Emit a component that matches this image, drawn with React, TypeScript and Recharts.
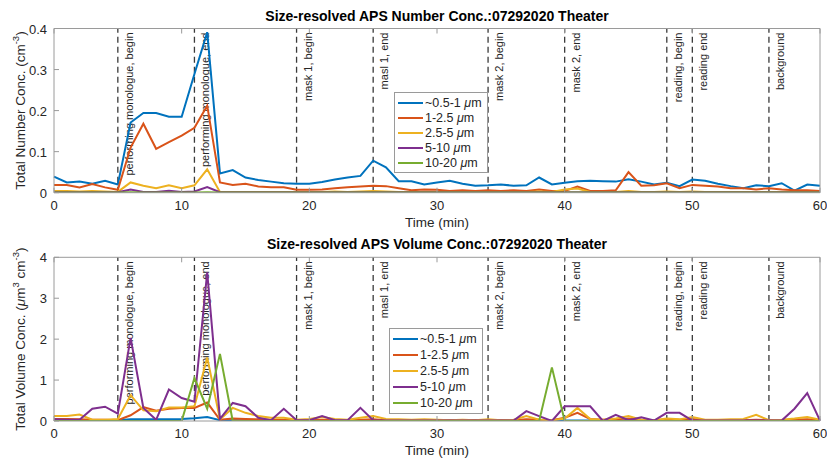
import React from 'react';
import { LineChart, Line, XAxis, YAxis, ReferenceLine, Legend } from 'recharts';

// time axis (min)
const time = [
  0, 1, 2, 3, 4, 5, 6, 7, 8, 9,
  10, 11, 12, 13, 14, 15, 16, 17, 18, 19,
  20, 21, 22, 23, 24, 25, 26, 27, 28, 29,
  30, 31, 32, 33, 34, 35, 36, 37, 38, 39,
  40, 41, 42, 43, 44, 45, 46, 47, 48, 49,
  50, 51, 52, 53, 54, 55, 56, 57, 58, 59, 60,
];

const seriesNames = ['~0.5-1 μm', '1-2.5 μm', '2.5-5 μm', '5-10 μm', '10-20 μm'];
const seriesColors = ['#0072BD', '#D95319', '#EDB120', '#7E2F8E', '#77AC30'];

// number concentration (cm^-3)
const numFine = [
  0.039, 0.025, 0.027, 0.022, 0.029, 0.020, 0.171, 0.194, 0.194, 0.185,
  0.185, 0.289, 0.391, 0.047, 0.055, 0.037, 0.031, 0.027, 0.023, 0.022,
  0.022, 0.026, 0.032, 0.037, 0.041, 0.078, 0.062, 0.028, 0.028, 0.020,
  0.025, 0.029, 0.022, 0.017, 0.018, 0.020, 0.017, 0.018, 0.037, 0.020,
  0.024, 0.028, 0.029, 0.028, 0.027, 0.033, 0.027, 0.020, 0.024, 0.016,
  0.032, 0.029, 0.022, 0.016, 0.011, 0.018, 0.016, 0.023, 0.005, 0.020, 0.017,
];
const num1to2 = [
  0.019, 0.019, 0.013, 0.021, 0.013, 0.007, 0.110, 0.168, 0.107, 0.123,
  0.139, 0.158, 0.212, 0.025, 0.019, 0.022, 0.015, 0.013, 0.013, 0.007,
  0.007, 0.008, 0.011, 0.013, 0.015, 0.017, 0.016, 0.011, 0.006, 0.008,
  0.007, 0.004, 0.006, 0.004, 0.006, 0.004, 0.006, 0.004, 0.008, 0.004,
  0.004, 0.015, 0.004, 0.004, 0.006, 0.050, 0.017, 0.018, 0.023, 0.011,
  0.019, 0.017, 0.015, 0.011, 0.011, 0.008, 0.011, 0.008, 0.006, 0.006, 0.004,
];
const num2to5 = [
  0.004, 0.004, 0.003, 0.004, 0.003, 0.002, 0.025, 0.017, 0.011, 0.018,
  0.011, 0.018, 0.057, 0.002, 0.002, 0.002, 0.002, 0.002, 0.002, 0.002,
  0.002, 0.002, 0.003, 0.002, 0.003, 0.004, 0.003, 0.002, 0.002, 0.002,
  0.002, 0.002, 0.002, 0.002, 0.002, 0.002, 0.002, 0.002, 0.003, 0.002,
  0.008, 0.010, 0.002, 0.002, 0.002, 0.004, 0.002, 0.002, 0.003, 0.002,
  0.003, 0.002, 0.002, 0.002, 0.002, 0.002, 0.002, 0.002, 0.002, 0.002, 0.002,
];
const num5to10 = [
  0.001, 0.001, 0.001, 0.001, 0.001, 0.001, 0.008, 0.002, 0.002, 0.005,
  0.002, 0.003, 0.014, 0.001, 0.001, 0.001, 0.001, 0.001, 0.001, 0.001,
  0.001, 0.001, 0.001, 0.001, 0.001, 0.001, 0.001, 0.001, 0.001, 0.001,
  0.001, 0.001, 0.001, 0.001, 0.001, 0.001, 0.001, 0.001, 0.001, 0.001,
  0.001, 0.001, 0.001, 0.001, 0.001, 0.001, 0.001, 0.001, 0.001, 0.001,
  0.001, 0.001, 0.001, 0.001, 0.001, 0.001, 0.001, 0.001, 0.001, 0.001, 0.001,
];
const num10to20 = [
  0.0005, 0.0005, 0.0005, 0.0005, 0.0005, 0.0005, 0.001, 0.0005, 0.0005, 0.0005,
  0.0005, 0.0005, 0.001, 0.0005, 0.0005, 0.0005, 0.0005, 0.0005, 0.0005, 0.0005,
  0.0005, 0.0005, 0.0005, 0.0005, 0.0005, 0.0005, 0.0005, 0.0005, 0.0005, 0.0005,
  0.0005, 0.0005, 0.0005, 0.0005, 0.0005, 0.0005, 0.0005, 0.0005, 0.0005, 0.0005,
  0.0005, 0.0005, 0.0005, 0.0005, 0.0005, 0.0005, 0.0005, 0.0005, 0.0005, 0.0005,
  0.0005, 0.0005, 0.0005, 0.0005, 0.0005, 0.0005, 0.0005, 0.0005, 0.0005, 0.0005, 0.0005,
];

// volume concentration (um^3 cm^-3)
const volFine = [
  0.02, 0.02, 0.02, 0.02, 0.02, 0.02, 0.04, 0.04, 0.04, 0.04,
  0.05, 0.07, 0.10, 0.02, 0.02, 0.02, 0.01, 0.01, 0.01, 0.01,
  0.01, 0.01, 0.01, 0.01, 0.01, 0.02, 0.01, 0.01, 0.01, 0.01,
  0.01, 0.01, 0.01, 0.01, 0.01, 0.01, 0.01, 0.01, 0.01, 0.01,
  0.01, 0.01, 0.01, 0.01, 0.01, 0.01, 0.01, 0.01, 0.01, 0.01,
  0.01, 0.01, 0.01, 0.01, 0.01, 0.01, 0.01, 0.01, 0.01, 0.01, 0.01,
];
const vol1to2 = [
  0.05, 0.05, 0.04, 0.03, 0.03, 0.02, 0.14, 0.34, 0.25, 0.30,
  0.32, 0.32, 0.45, 0.03, 0.06, 0.05, 0.04, 0.03, 0.03, 0.02,
  0.02, 0.03, 0.02, 0.02, 0.03, 0.04, 0.02, 0.02, 0.02, 0.02,
  0.02, 0.02, 0.02, 0.02, 0.02, 0.02, 0.02, 0.04, 0.03, 0.02,
  0.08, 0.20, 0.05, 0.03, 0.04, 0.06, 0.03, 0.02, 0.04, 0.03,
  0.05, 0.02, 0.02, 0.02, 0.02, 0.03, 0.02, 0.02, 0.03, 0.04, 0.02,
];
const vol2to5 = [
  0.12, 0.12, 0.16, 0.03, 0.03, 0.05, 0.63, 0.26, 0.24, 0.33,
  0.33, 0.36, 1.55, 0.04, 0.32, 0.20, 0.12, 0.08, 0.08, 0.03,
  0.05, 0.10, 0.05, 0.03, 0.08, 0.12, 0.05, 0.04, 0.03, 0.04,
  0.03, 0.02, 0.03, 0.02, 0.04, 0.02, 0.03, 0.12, 0.03, 0.02,
  0.06, 0.32, 0.05, 0.03, 0.06, 0.12, 0.03, 0.02, 0.06, 0.04,
  0.10, 0.03, 0.03, 0.04, 0.05, 0.15, 0.02, 0.03, 0.06, 0.10, 0.03,
];
const vol5to10 = [
  0.04, 0.03, 0.03, 0.30, 0.35, 0.18, 2.03, 0.32, 0.03, 0.77,
  0.56, 0.47, 3.63, 0.05, 0.44, 0.36, 0.08, 0.02, 0.30, 0.02,
  0.02, 0.12, 0.02, 0.02, 0.32, 0.02, 0.01, 0.01, 0.01, 0.01,
  0.01, 0.01, 0.01, 0.01, 0.01, 0.01, 0.01, 0.24, 0.12, 0.00,
  0.36, 0.36, 0.36, 0.00, 0.15, 0.02, 0.09, 0.01, 0.20, 0.20,
  0.01, 0.01, 0.01, 0.01, 0.01, 0.01, 0.01, 0.01, 0.30, 0.68, 0.01,
];
const vol10to20 = [
  0, 0, 0, 0, 0, 0, 0, 0, 0, 0,
  0, 1.05, 0.30, 1.64, 0, 0, 0, 0, 0, 0,
  0, 0, 0, 0, 0, 0, 0, 0, 0, 0,
  0, 0, 0, 0, 0, 0, 0, 0, 0, 1.31,
  0, 0, 0, 0, 0, 0, 0, 0, 0, 0,
  0, 0, 0, 0, 0, 0, 0, 0, 0, 0, 0,
];

// event markers
const eventTimes = [5, 11, 19, 25, 34, 40, 48, 50, 56];
const eventLabels = [
  'performing monologue, begin',
  'performing monologue, end',
  'mask 1, begin',
  'masl 1, end',
  'mask 2, begin',
  'mask 2, end',
  'reading, begin',
  'reading end',
  'background',
];

const xTicks = [0, 10, 20, 30, 40, 50, 60];
const numTicks = [0, 0.1, 0.2, 0.3, 0.4];
const volTicks = [0, 1, 2, 3, 4];

const keys = ['s1', 's2', 's3', 's4', 's5'];

const numRows = time.map((t, i) => ({
  t, s1: numFine[i], s2: num1to2[i], s3: num2to5[i], s4: num5to10[i], s5: num10to20[i],
}));
const volRows = time.map((t, i) => ({
  t, s1: volFine[i], s2: vol1to2[i], s3: vol2to5[i], s4: vol5to10[i], s5: vol10to20[i],
}));

const FONT = '"Liberation Sans", Arial, Helvetica, sans-serif';
const W = 827;
const PANEL_H = 233;
const LEFT = 54;
const RIGHT = 7;
const Y_AXIS_W = 40;
const X_AXIS_H = 30;
const AXIS = '#9a9a9a';
const TEXT = '#262626';
const TICK_LEN = 5;

const BottomTick = (props: any) => {
  const { x, y, payload } = props;
  return (
    <g>
      <line x1={x} x2={x} y1={y} y2={y - TICK_LEN} stroke={AXIS} />
      <text x={x} y={y + 17} textAnchor="middle" fontSize={13} fill={TEXT} fontFamily={FONT}>
        {payload.value}
      </text>
    </g>
  );
};

const TopTick = (props: any) => {
  const { x, y } = props;
  return <line x1={x} x2={x} y1={y} y2={y + TICK_LEN} stroke={AXIS} />;
};

const LeftTick = (props: any) => {
  const { x, y, payload } = props;
  return (
    <g>
      <line x1={x} x2={x + TICK_LEN} y1={y} y2={y} stroke={AXIS} />
      <text x={x - 7} y={y + 5} textAnchor="end" fontSize={13} fill={TEXT} fontFamily={FONT}>
        {payload.value}
      </text>
    </g>
  );
};

const RightTick = (props: any) => {
  const { x, y } = props;
  return <line x1={x} x2={x - TICK_LEN} y1={y} y2={y} stroke={AXIS} />;
};

const eventLabel = (text: string) => (props: any) => {
  const { x, y } = props.viewBox;
  const px = x + 15;
  const py = y + 4;
  return (
    <text
      x={px}
      y={py}
      transform={`rotate(-90 ${px} ${py})`}
      textAnchor="end"
      fontSize={11}
      fill={TEXT}
      fontFamily={FONT}
    >
      {text}
    </text>
  );
};

const legendName = (name: string) => {
  const base = name.replace(' μm', '');
  return (
    <span>
      {base} <i>μ</i>m
    </span>
  );
};

const makeLegend = (rowH: number) => (props: any) => {
  const items = [...(props.payload || [])].sort(
    (a: any, b: any) => seriesNames.indexOf(a.value) - seriesNames.indexOf(b.value)
  );
  return (
    <div
      style={{
        border: `1px solid ${AXIS}`,
        background: '#fff',
        padding: '2px 5px 2px 3px',
        fontFamily: FONT,
        fontSize: 12.5,
        color: TEXT,
      }}
    >
      {items.map((p: any) => (
        <div key={p.value} style={{ display: 'flex', alignItems: 'center', height: rowH, whiteSpace: 'nowrap' }}>
          <span style={{ display: 'inline-block', width: 25, height: 2, background: p.color, marginRight: 2 }} />
          {legendName(p.value)}
        </div>
      ))}
    </div>
  );
};

interface PanelProps {
  top: number;
  title: string;
  rows: any[];
  yMax: number;
  yTicks: number[];
  yLabel: React.ReactNode;
  plotTop: number;
  plotBottom: number;
  legendLeft: number;
  legendTop: number;
  legendRowH: number;
}

function Panel({ top, title, rows, yMax, yTicks, yLabel, plotTop, plotBottom, legendLeft, legendTop, legendRowH }: PanelProps) {
  const plotMid = (plotTop + plotBottom) / 2;
  const xMid = (LEFT + W - RIGHT) / 2;
  return (
    <div style={{ position: 'absolute', left: 0, top, width: W, height: PANEL_H }}>
      <div
        style={{
          position: 'absolute',
          left: LEFT,
          width: W - LEFT - RIGHT,
          top: plotTop - 21,
          height: 17,
          lineHeight: '17px',
          textAlign: 'center',
          fontFamily: FONT,
          fontWeight: 'bold',
          fontSize: 14,
          color: '#000',
        }}
      >
        {title}
      </div>
      <LineChart
        width={W}
        height={PANEL_H}
        data={rows}
        margin={{
          top: plotTop - 1,
          right: RIGHT - 1,
          bottom: PANEL_H - plotBottom - X_AXIS_H,
          left: LEFT - Y_AXIS_W,
        }}
      >
        <XAxis
          dataKey="t"
          type="number"
          domain={[0, 60]}
          ticks={xTicks}
          interval={0}
          height={X_AXIS_H}
          tickSize={0}
          tickMargin={0}
          tickLine={false}
          axisLine={{ stroke: AXIS }}
          tick={BottomTick}
          label={{
            content: () => (
              <text x={xMid} y={plotBottom + 34} textAnchor="middle" fontSize={13.5} fill={TEXT} fontFamily={FONT}>
                Time (min)
              </text>
            ),
          }}
        />
        <XAxis
          xAxisId="top"
          orientation="top"
          dataKey="t"
          type="number"
          domain={[0, 60]}
          ticks={xTicks}
          interval={0}
          height={1}
          tickSize={0}
          tickMargin={0}
          tickLine={false}
          axisLine={{ stroke: AXIS }}
          tick={TopTick}
        />
        <YAxis
          type="number"
          domain={[0, yMax]}
          ticks={yTicks}
          interval={0}
          width={Y_AXIS_W}
          tickSize={0}
          tickMargin={0}
          tickLine={false}
          axisLine={{ stroke: AXIS }}
          tick={LeftTick}
          allowDataOverflow
          label={{
            content: () => (
              <text
                x={25}
                y={plotMid}
                transform={`rotate(-90 25 ${plotMid})`}
                textAnchor="middle"
                fontSize={13.5}
                fill={TEXT}
                fontFamily={FONT}
              >
                {yLabel}
              </text>
            ),
          }}
        />
        <YAxis
          yAxisId="right"
          orientation="right"
          type="number"
          domain={[0, yMax]}
          ticks={yTicks}
          interval={0}
          width={1}
          tickSize={0}
          tickMargin={0}
          tickLine={false}
          axisLine={{ stroke: AXIS }}
          tick={RightTick}
        />
        {eventTimes.map((et, i) => (
          <ReferenceLine
            key={et}
            x={et}
            stroke="#3a3a3a"
            strokeWidth={1.3}
            strokeDasharray="6 4"
            label={eventLabel(eventLabels[i])}
          />
        ))}
        {keys.map((k, i) => (
          <Line
            key={k}
            dataKey={k}
            name={seriesNames[i]}
            stroke={seriesColors[i]}
            strokeWidth={2}
            dot={false}
            isAnimationActive={false}
          />
        ))}
        <Legend
          layout="vertical"
          align="center"
          verticalAlign="middle"
          content={makeLegend(legendRowH)}
          wrapperStyle={{ left: legendLeft, top: legendTop, width: 'auto' }}
        />
      </LineChart>
    </div>
  );
}

export default function App() {
  return (
    <div style={{ position: 'absolute', left: 0, top: 0, width: W, height: 466, background: '#fff', overflow: 'hidden' }}>
      <Panel
        top={0}
        title="Size-resolved APS Number Conc.:07292020 Theater"
        rows={numRows}
        yMax={0.4}
        yTicks={numTicks}
        yLabel={
          <>
            Total Number Conc. (cm
            <tspan dy={-6} fontSize={9.5}>-3</tspan>
            <tspan dy={6}>)</tspan>
          </>
        }
        plotTop={28.5}
        plotBottom={192.7}
        legendLeft={394}
        legendTop={92}
        legendRowH={15}
      />
      <Panel
        top={233}
        title="Size-resolved APS Volume Conc.:07292020 Theater"
        rows={volRows}
        yMax={4}
        yTicks={volTicks}
        yLabel={
          <>
            Total Volume Conc. (<tspan fontStyle="italic">μ</tspan>m
            <tspan dy={-6} fontSize={9.5}>3</tspan>
            <tspan dy={6}> cm</tspan>
            <tspan dy={-6} fontSize={9.5}>-3</tspan>
            <tspan dy={6}>)</tspan>
          </>
        }
        plotTop={24.3}
        plotBottom={188}
        legendLeft={389}
        legendTop={328 - 233}
        legendRowH={16}
      />
    </div>
  );
}
